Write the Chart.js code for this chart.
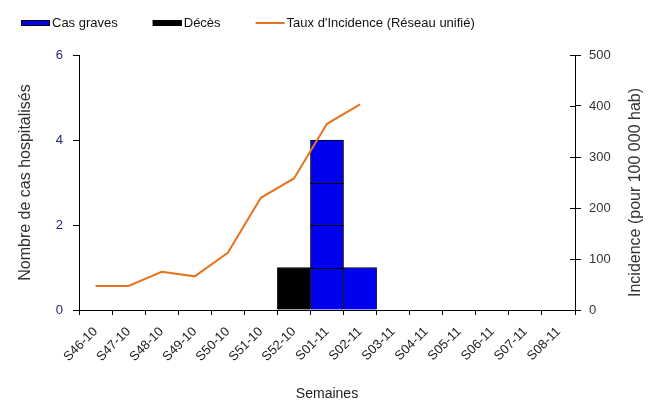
<!DOCTYPE html>
<html><head><meta charset="utf-8">
<script src="https://cdn.jsdelivr.net/npm/chart.js@4/dist/chart.umd.min.js"></script>
<style>html,body{margin:0;padding:0;background:#fff}#wrap{width:655px;height:403px}</style>
</head><body><div id="wrap"><canvas id="c" width="655" height="403"></canvas></div>
<script>
const weeks = ['S46-10','S47-10','S48-10','S49-10','S50-10','S51-10','S52-10','S01-11','S02-11','S03-11','S04-11','S05-11','S06-11','S07-11','S08-11'];
const casGraves = [null,null,null,null,null,null,null,4,1,null,null,null,null,null,null];
const deces = [null,null,null,null,null,null,1,null,null,null,null,null,null,null,null];
const incidence = [47,47,75,66,112,220,258,365,403,null,null,null,null,null,null];
const leftTicks = [0,2,4,6];
const rightTicks = [0,100,200,300,400,500];
const rightTitle = 'Incidence (pour 100 000 hab)';

const FONT = "'Liberation Sans', Arial, sans-serif";
const PLOT = {left:79, right:575, top:55, bottom:310};
const W = 655, H = 403;

const extras = {
  id:'extras',
  afterDatasetsDraw(chart){
    const ctx = chart.ctx, ys = chart.scales.y, xs = chart.scales.x;
    const cw = xs.width / chart.data.labels.length;
    chart.data.datasets.forEach(ds=>{
      if (ds.type !== 'bar') return;
      ds.data.forEach((v,j)=>{
        if (!v || v < 2) return;
        const cx = xs.getPixelForValue(j);
        ctx.save(); ctx.strokeStyle='#000'; ctx.lineWidth=1.2;
        for (let k=1;k<v;k++){
          const y = Math.round(ys.getPixelForValue(k))+0.5;
          ctx.beginPath(); ctx.moveTo(cx-cw/2,y); ctx.lineTo(cx+cw/2,y); ctx.stroke();
        }
        ctx.restore();
      });
    });
  },
  afterDraw(chart){
    const ctx = chart.ctx;
    ctx.save();
    ctx.font = '13px '+FONT;
    ctx.textBaseline = 'middle';
    let x = 21; const y = 23;
    chart.data.datasets.forEach(ds=>{
      if (ds.type === 'line'){
        ctx.strokeStyle = ds.borderColor; ctx.lineWidth = 2;
        ctx.beginPath(); ctx.moveTo(x, y); ctx.lineTo(x+29, y); ctx.stroke();
      } else {
        ctx.fillStyle = ds.backgroundColor; ctx.fillRect(x, y-3, 29, 6);
        ctx.strokeStyle = '#000'; ctx.lineWidth=1; ctx.strokeRect(x+0.5, y-2.5, 28, 5);
      }
      x += 31;
      ctx.fillStyle = '#111';
      ctx.fillText(ds.label, x, y);
      x += ctx.measureText(ds.label).width + 35;
    });
    ctx.restore();
    const r = chart.scales.y1;
    ctx.save();
    ctx.strokeStyle = '#000'; ctx.lineWidth = 1;
    rightTicks.forEach(v=>{
      const ty = Math.round(r.getPixelForValue(v))+0.5;
      ctx.beginPath(); ctx.moveTo(r.left-5, ty); ctx.lineTo(r.left, ty); ctx.stroke();
    });
    ctx.translate(636, (chart.chartArea.top+chart.chartArea.bottom)/2 + 10);
    ctx.rotate(-Math.PI/2);
    ctx.font = '16px '+FONT;
    ctx.fillStyle = '#333';
    ctx.textAlign = 'center'; ctx.textBaseline = 'middle';
    ctx.fillText(rightTitle, 0, 0);
    ctx.restore();
  }
};

new Chart(document.getElementById('c'), {
  data: {
    labels: weeks,
    datasets: [
      {type:'bar', label:'Cas graves', data:casGraves, backgroundColor:'#0000F0', borderColor:'#000', borderWidth:1, yAxisID:'y', grouped:false, barPercentage:1, categoryPercentage:1, order:2},
      {type:'bar', label:'Décès', data:deces, backgroundColor:'#000000', borderColor:'#000', borderWidth:1, yAxisID:'y', grouped:false, barPercentage:1, categoryPercentage:1, order:2},
      {type:'line', label:"Taux d'Incidence (Réseau unifié)", data:incidence, borderColor:'#E8731E', backgroundColor:'#E8731E', borderWidth:2, pointRadius:0, tension:0, yAxisID:'y1', spanGaps:false, order:1}
    ]
  },
  options: {
    responsive:false, animation:false, devicePixelRatio:1,
    layout:{padding:{top:PLOT.top, left:0, right:0, bottom:0}},
    plugins:{legend:{display:false}, tooltip:{enabled:false}},
    scales:{
      x:{
        offset:true,
        grid:{display:true, offset:true, drawOnChartArea:false, color:'#000', tickLength:5, tickColor:'#000'},
        border:{display:true, color:'#000', width:1},
        ticks:{minRotation:45, maxRotation:45, color:'#222', font:{family:FONT, size:13}, padding:9},
        title:{display:true, text:'Semaines', color:'#222', font:{family:FONT, size:14}, padding:{top:0,bottom:0}},
        afterFit(s){ s.height = H - PLOT.bottom; }
      },
      y:{
        position:'left', min:0, max:6,
        afterBuildTicks(s){ s.ticks = leftTicks.map(v=>({value:v})); },
        grid:{display:true, drawOnChartArea:false, color:'#000', tickLength:6, tickColor:'#000'},
        border:{display:true, color:'#000', width:1},
        ticks:{color:'#1F1F78', font:{family:FONT, size:13}, padding:10},
        title:{display:true, text:'Nombre de cas hospitalisés', color:'#333', font:{family:FONT, size:16}, padding:{top:16,bottom:0}},
        afterFit(s){ s.width = PLOT.left; }
      },
      y1:{
        position:'right', min:0, max:500,
        afterBuildTicks(s){ s.ticks = rightTicks.map(v=>({value:v})); },
        grid:{display:true, drawOnChartArea:false, color:'#000', tickLength:6, tickColor:'#000'},
        border:{display:true, color:'#000', width:1},
        ticks:{color:'#333', font:{family:FONT, size:13}, padding:8},
        title:{display:false},
        afterFit(s){ s.width = W - PLOT.right; }
      }
    }
  },
  plugins:[extras]
});
</script></body></html>
